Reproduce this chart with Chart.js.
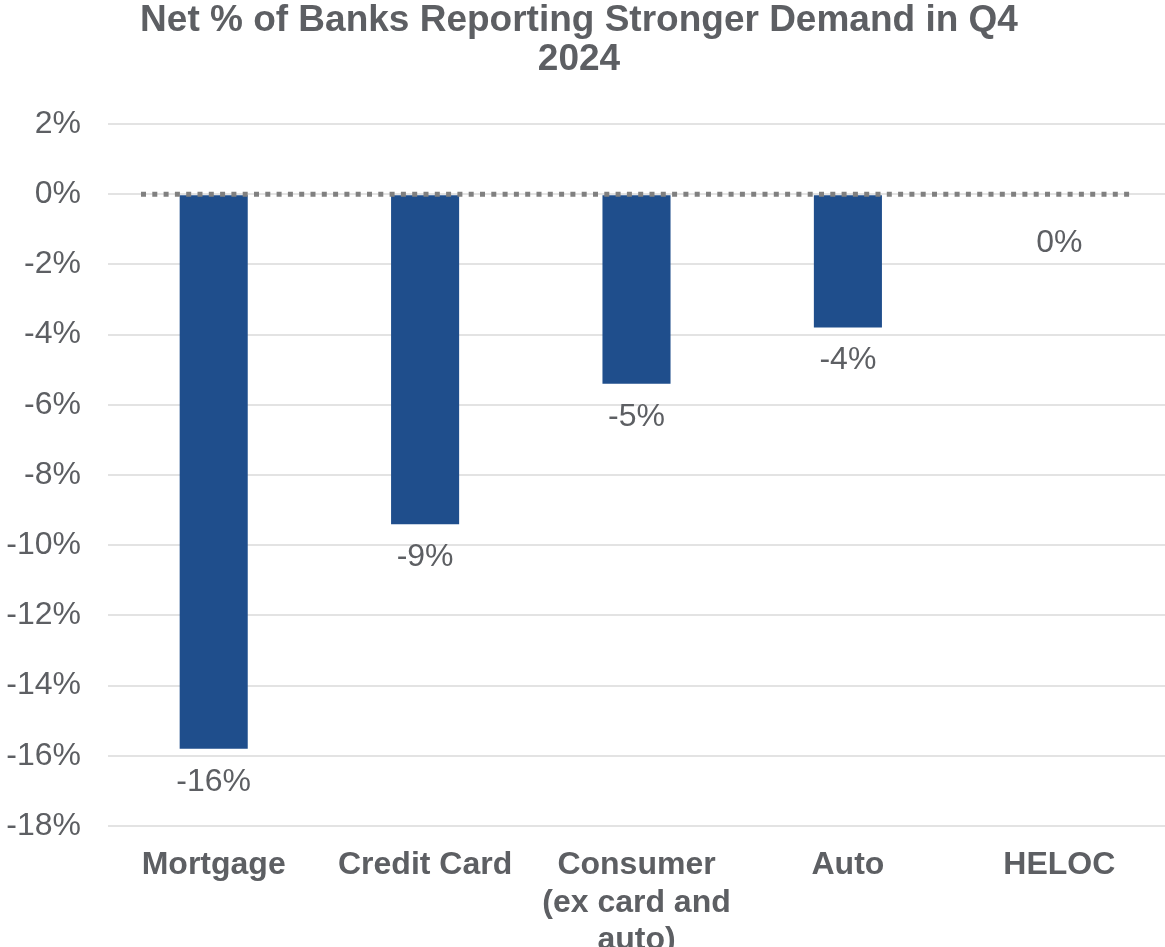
<!DOCTYPE html>
<html lang="en">
<head>
    <meta charset="UTF-8">
    <meta name="viewport" content="width=device-width, initial-scale=1.0">
    <title>Net % of Banks Reporting Stronger Demand</title>
    <style>
        html, body { margin: 0; padding: 0; background: #ffffff; }
        #demand-chart { display: block; }
    </style>
</head>
<body>
    <canvas id="demand-chart" width="1165" height="947"></canvas>
    <script src="https://cdn.jsdelivr.net/npm/chart.js@4.4.1/dist/chart.umd.min.js"></script>

    <script>
        // Loan categories and net % of banks reporting stronger demand
        const categories = ['Mortgage', 'Credit Card', ['Consumer', '(ex card and', 'auto)'], 'Auto', 'HELOC'];
        const netDemand = [-15.8, -9.4, -5.4, -3.8, 0];
        const valueLabels = ['-16%', '-9%', '-5%', '-4%', '0%'];
        const yTicks = [2, 0, -2, -4, -6, -8, -10, -12, -14, -16, -18];

        const textGray = '#5d5f63';
        const fontFamily = '"Liberation Sans", Arial, sans-serif';

        // Title drawn above the plot area
        const titlePlugin = {
            id: 'titleText',
            afterDraw(chart) {
                const ctx = chart.ctx;
                ctx.save();
                ctx.fillStyle = textGray;
                ctx.font = 'bold 37px ' + fontFamily;
                ctx.textAlign = 'center';
                ctx.textBaseline = 'middle';
                ctx.fillText('Net % of Banks Reporting Stronger Demand in Q4', 579, 21);
                ctx.fillText('2024', 579, 60);
                ctx.restore();
            }
        };

        // Dotted zero line across the bars
        const zeroLinePlugin = {
            id: 'zeroLine',
            afterDatasetsDraw(chart) {
                const ctx = chart.ctx;
                const area = chart.chartArea;
                const y = chart.scales.y.getPixelForValue(0);
                ctx.save();
                ctx.strokeStyle = '#808080';
                ctx.lineWidth = 5;
                ctx.setLineDash([5, 6.3]);
                ctx.beginPath();
                ctx.moveTo(area.left + 33, y);
                ctx.lineTo(area.right - 33, y);
                ctx.stroke();
                ctx.restore();
            }
        };

        // Value labels below each bar end
        const valueLabelPlugin = {
            id: 'valueLabels',
            afterDatasetsDraw(chart) {
                const ctx = chart.ctx;
                const meta = chart.getDatasetMeta(0);
                ctx.save();
                ctx.fillStyle = textGray;
                ctx.font = '32px ' + fontFamily;
                ctx.textAlign = 'center';
                ctx.textBaseline = 'middle';
                meta.data.forEach((bar, i) => {
                    const offset = netDemand[i] === 0 ? 49 : 33;
                    ctx.fillText(valueLabels[i], bar.x, bar.y + offset);
                });
                ctx.restore();
            }
        };

        const canvas = document.getElementById('demand-chart');
        new Chart(canvas, {
            type: 'bar',
            data: {
                labels: categories,
                datasets: [{
                    data: netDemand,
                    backgroundColor: '#1f4e8c',
                    borderWidth: 0,
                    categoryPercentage: 1,
                    barPercentage: 0.322
                }]
            },
            options: {
                responsive: false,
                animation: false,
                layout: { padding: { top: 124, right: 0, left: 0, bottom: 0 } },
                plugins: {
                    legend: { display: false },
                    title: { display: false },
                    tooltip: { enabled: false }
                },
                scales: {
                    x: {
                        grid: { display: false, drawTicks: false },
                        border: { display: false },
                        ticks: {
                            color: textGray,
                            padding: 21,
                            maxRotation: 0,
                            autoSkip: false,
                            font: { family: fontFamily, size: 32, weight: 'bold', lineHeight: 1.16 }
                        },
                        afterFit(scale) { scale.height = 121; }
                    },
                    y: {
                        min: -18,
                        max: 2,
                        grid: { color: '#e3e3e3', lineWidth: 2, drawTicks: false },
                        border: { display: false },
                        afterBuildTicks(scale) {
                            scale.ticks = yTicks.map(v => ({ value: v }));
                        },
                        ticks: {
                            color: textGray,
                            padding: 27,
                            font: { family: fontFamily, size: 32 },
                            callback: v => v + '%'
                        },
                        afterFit(scale) { scale.width = 108; }
                    }
                }
            },
            plugins: [titlePlugin, zeroLinePlugin, valueLabelPlugin]
        });
    </script>
</body>
</html>
